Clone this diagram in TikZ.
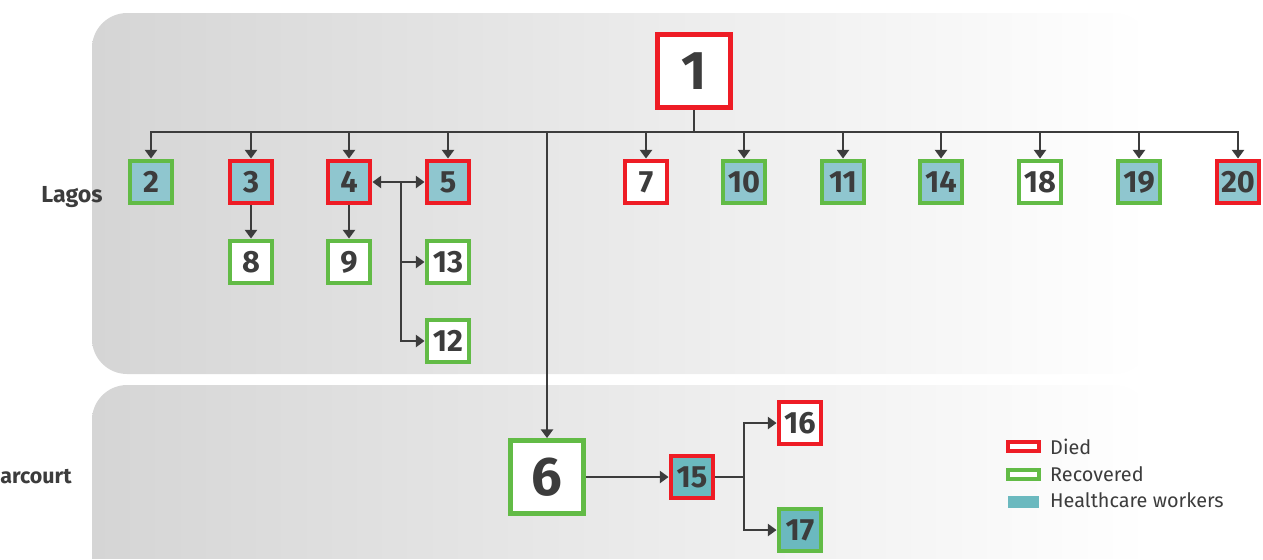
\documentclass[tikz,border=0pt]{standalone}
\usepackage{fontspec}
\setmainfont{Fira Sans}
\usetikzlibrary{arrows.meta}
\definecolor{cred}{HTML}{EE1C25}
\definecolor{cgreen}{HTML}{62BB46}
\definecolor{tealA}{HTML}{8FC6CF}
\definecolor{tealB}{HTML}{6BB9BF}
\definecolor{ink}{HTML}{3C3C3C}
\definecolor{panelL}{HTML}{D5D5D5}
\tikzset{
  box/.style={draw, line width=2.8pt, minimum size=0.84cm, inner sep=0pt, font=\bfseries\fontsize{17.5}{17.5}\selectfont, text=ink},
  bigbox/.style={box, minimum size=1.46cm, font=\bfseries\fontsize{31}{31}\selectfont},
  died/.style={draw=cred},
  recov/.style={draw=cgreen},
  hcw/.style={fill=tealA},
  hcwb/.style={fill=tealB},
  plain/.style={fill=white},
  conn/.style={draw=ink, line width=1.1pt},
  arr/.style={conn, -{Triangle[width=7pt,length=5pt]}},
  lbl/.style={font=\bfseries\fontsize{13.2}{13.2}\selectfont, text=ink},
  leg/.style={font=\fontsize{11.3}{11.3}\selectfont, text=ink, anchor=west},
}
\begin{document}
\begin{tikzpicture}[x=0.02cm,y=-0.02cm]
\useasboundingbox (0,0) rectangle (1263,559);
% panels
\shade[left color=panelL, right color=white, rounded corners=20pt] (92,13) rectangle (1150,374);
\shade[left color=panelL, right color=white, rounded corners=20pt] (92,385) rectangle (1150,600);
\fill[white] (0,559) rectangle (1263,620);
% region labels
\node[lbl] (lagos) at (72,197) {Lagos};
\node[lbl, font=\bfseries\fontsize{12.2}{12.2}\selectfont, anchor=west, inner sep=0pt] (ph) at (0,477) {arcourt};
% nodes
\node[bigbox, died, plain] (n1) at (694,71) {1};
\node[box, recov, hcw] (n2) at (151,182) {2};
\node[box, died, hcw] (n3) at (251,182) {3};
\node[box, died, hcw] (n4) at (349,182) {4};
\node[box, died, hcw] (n5) at (448,182) {5};
\node[box, died, plain] (n7) at (646,182) {7};
\node[box, recov, hcw] (n10) at (744,182) {10};
\node[box, recov, hcw] (n11) at (843,182) {11};
\node[box, recov, hcw] (n14) at (941,182) {14};
\node[box, recov, plain] (n18) at (1040,182) {18};
\node[box, recov, hcw] (n19) at (1139,182) {19};
\node[box, died, hcw] (n20) at (1238,182) {20};
\node[box, recov, plain] (n8) at (251,262) {8};
\node[box, recov, plain] (n9) at (349,262) {9};
\node[box, recov, plain] (n13) at (448,262) {13};
\node[box, recov, plain] (n12) at (448,341) {12};
\node[bigbox, recov, plain] (n6) at (547,477) {6};
\node[box, died, hcwb] (n15) at (692,477) {15};
\node[box, died, plain] (n16) at (800,423) {16};
\node[box, recov, hcwb] (n17) at (800,530) {17};
% connectors
\coordinate (bus) at (694,132);
\coordinate (b45) at (401,182);
\coordinate (b15) at (744,477);
\draw[conn] (n1) -- (bus);
\foreach \c in {n2,n3,n4,n5,n7,n10,n11,n14,n18,n19,n20,n6}
  \draw[arr] (bus) -| (\c);
\draw[arr] (n3) -- (n8);
\draw[arr] (n4) -- (n9);
\draw[arr] (b45) -- (n4);
\draw[arr] (b45) -- (n5);
\draw[arr] (b45) |- (n13);
\draw[arr] (b45) |- (n12);
\draw[arr] (n6) -- (n15);
\draw[conn] (n15) -- (b15);
\draw[arr] (b15) |- (n16);
\draw[arr] (b15) |- (n17);
% legend
\node[draw=cred, line width=2.2pt, minimum width=0.62cm, minimum height=0.18cm, inner sep=0pt, fill=white] (kd) at (1023.5,446.5) {};
\node[draw=cgreen, line width=2.2pt, minimum width=0.62cm, minimum height=0.18cm, inner sep=0pt, fill=white] (kr) at (1023.5,474.5) {};
\node[fill=tealB, minimum width=0.62cm, minimum height=0.24cm, inner sep=0pt] (kh) at (1023.5,502) {};
\node[leg] (td) at (1044,447) {Died};
\node[leg] (tr) at (1044,474) {Recovered};
\node[leg] (th) at (1044,500) {Healthcare workers};
\end{tikzpicture}
\end{document}
